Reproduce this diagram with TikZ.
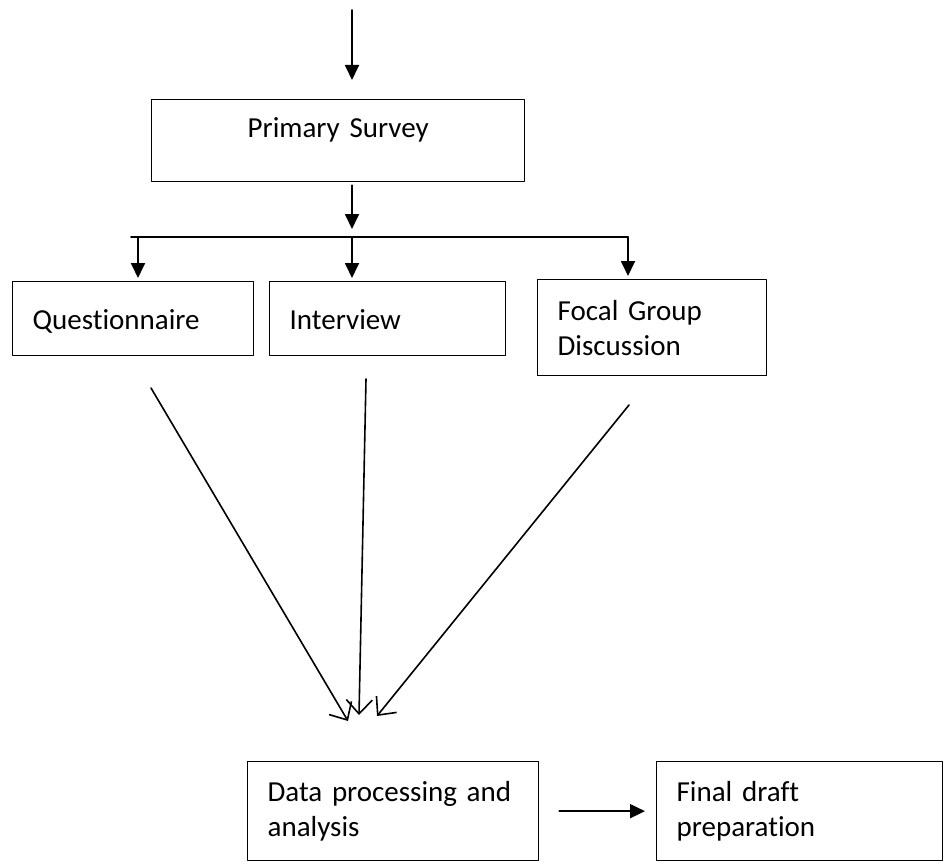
\documentclass[tikz,border=0pt]{standalone}
\usepackage{fontspec}
\setmainfont{Carlito}[Ligatures=NoCommon]
\usetikzlibrary{arrows.meta}
\begin{document}
\begin{tikzpicture}[x=1pt,y=-1pt,line join=round,line cap=round,
	box/.style={draw,line width=1.3pt,anchor=north west,inner xsep=20pt,inner ysep=0pt,align=left,font=\fontsize{29pt}{35pt}\selectfont},
	arr/.style={line width=1.8pt,-{Triangle[length=15pt,width=14pt]}},
	barb/.style={line width=1.6pt,-{Straight Barb[length=14pt,width=26pt,line width=1.6pt]}}]
	\useasboundingbox (0,0) rectangle (944,864);
	\node[box,align=center,text width=333pt,minimum height=82pt,text height=20pt,text depth=26pt] (ps) at (151,99) {Primary Survey};
	\node[box,text width=201pt,minimum height=74pt,text height=22pt,text depth=0pt] (quest) at (12,281) {Questionnaire};
	\node[box,text width=196pt,minimum height=74pt,text height=22pt,text depth=0pt] (inter) at (269,281) {Interview};
	\node[box,text width=189pt,minimum height=96pt] (focal) at (537,279) {Focal Group\\Discussion};
	\node[box,text width=251pt,minimum height=99pt] (data) at (247,761) {Data processing and\\analysis};
	\node[box,text width=246pt,minimum height=99pt] (final) at (656,761) {Final draft\\preparation};
	\coordinate (top) at (352,10);
	\coordinate (split) at (352,237);
	\coordinate (hl) at (131,237);
	\coordinate (hr) at (628,237);
	\coordinate (qa) at (138,237);
	\coordinate (q1) at (151,388);
	\coordinate (i1) at (366,379);
	\coordinate (f1) at (629,405);
	\coordinate (d1) at (348,721);
	\coordinate (d2) at (359,715);
	\coordinate (d3) at (377,716);
	\draw[arr,shorten >=19pt](top)--(top|-ps.north);
	\draw[arr,shorten <=3pt,shorten >=8pt](split|-ps.south)--(split);
	\draw[line width=1.8pt](hl)--(hr);
	\foreach \c/\n in {qa/quest,split/inter,hr/focal}{\draw[arr,shorten >=3pt](\c)--(\c|-\n.north);}
	\foreach \a/\b in {q1/d1,i1/d2,f1/d3}{\draw[barb](\a)--(\b);}
	\draw[arr,shorten <=20pt,shorten >=11pt](data.east)--(final.west);
\end{tikzpicture}
\end{document}
